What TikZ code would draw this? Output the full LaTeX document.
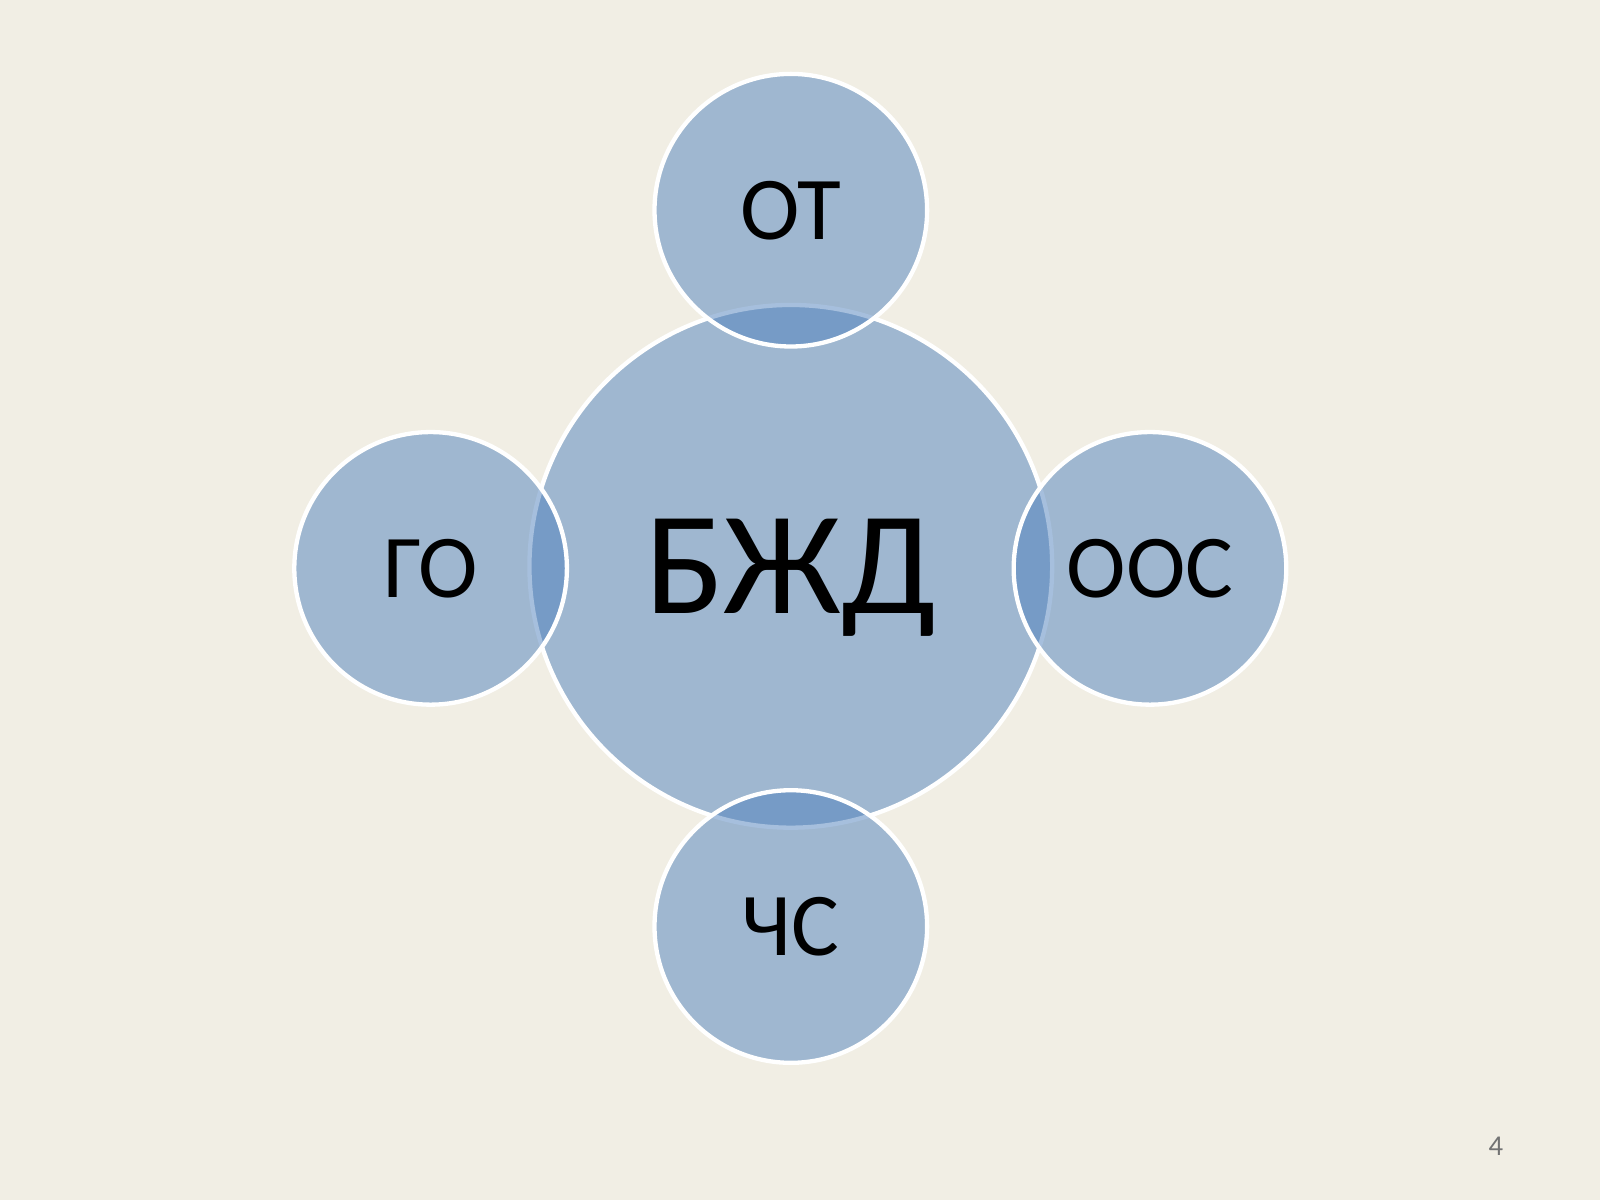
\documentclass[tikz,border=0pt]{standalone}
\usepackage{fontspec}
\setmainfont{Carlito}
\definecolor{slidebg}{RGB}{241,238,228}
\definecolor{discblue}{RGB}{79,129,189}
\tikzset{
    disc/.style={circle, draw=white, line width=1.2pt, fill=discblue,
        fill opacity=0.5, text opacity=1, inner sep=0pt},
    bigdisc/.style={disc, minimum size=5.12cm, text depth=0pt,
        font=\fontsize{41}{41}\selectfont},
    smalldisc/.style={disc, minimum size=2.67cm, font=\fontsize{25}{25}\selectfont}
}
\begin{document}
\begin{tikzpicture}[x=0.01cm, y=-0.01cm]
        \fill[slidebg] (0, 0) rectangle (1568, 1176);
        \useasboundingbox (0, 0) rectangle (1568, 1176);
        \node[bigdisc] (bzhd) at (775, 555) {БЖД};
        \node[smalldisc] (ot) at (775, 206) {ОТ};
        \node[smalldisc] (go) at (422, 557) {ГО};
        \node[smalldisc] (oos) at (1127, 557) {ООС};
        \node[smalldisc] (chs) at (775, 908) {ЧС};
        \node[text=black!55, font=\fontsize{8}{8}\selectfont] (page) at (1466, 1123) {4};
    \end{tikzpicture}
\end{document}
